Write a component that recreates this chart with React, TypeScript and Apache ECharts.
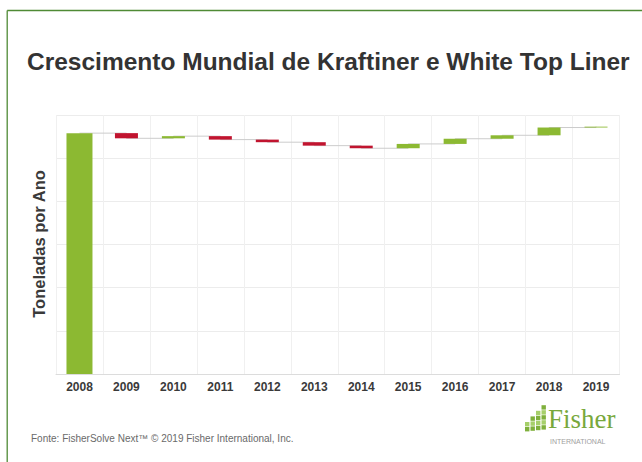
import React, { useEffect, useRef } from "react";
import * as echarts from "echarts";

const years = ["2008", "2009", "2010", "2011", "2012", "2013", "2014", "2015", "2016", "2017", "2018", "2019"];
const startTotal = 27.9;
const yearlyChanges = [-0.6, 0.25, -0.4, -0.3, -0.4, -0.3, 0.5, 0.6, 0.4, 0.9, 0.1];
const yTicks = { min: 0, max: 30, interval: 5 };

const GREEN = "#8cb932";
const RED = "#c1142f";

export default function App() {
  const ref = useRef<HTMLDivElement>(null);
  useEffect(() => {
    if (!ref.current) return;
    const chart = echarts.init(ref.current, null, { renderer: "svg" });

    const levels: number[] = [startTotal];
    yearlyChanges.forEach((d) => levels.push(+(levels[levels.length - 1] + d).toFixed(3)));

    const totalData = years.map((_, i) => (i === 0 ? startTotal : "-"));
    const baseData = years.map((_, i) => (i === 0 ? "-" : Math.min(levels[i - 1], levels[i])));
    const upData = years.map((_, i) => (i === 0 ? "-" : yearlyChanges[i - 1] > 0 ? yearlyChanges[i - 1] : "-"));
    const downData = years.map((_, i) => (i === 0 ? "-" : yearlyChanges[i - 1] < 0 ? -yearlyChanges[i - 1] : "-"));

    // Fisher logo squares (staircase icon)
    const logoSquares: any[] = [];
    const cols = [
      { x: 525, rows: 2 },
      { x: 530.5, rows: 3 },
      { x: 536, rows: 4 },
      { x: 541.5, rows: 5 },
    ];
    cols.forEach((c, ci) => {
      for (let r = 0; r < c.rows; r++) {
        logoSquares.push({
          type: "rect",
          shape: { x: c.x, y: 432 - (r + 1) * 5 - ci * 0.6, width: 4.4, height: 4.4 },
          style: { fill: r % 2 === 0 ? "#7fb03c" : "#a6cf6a" },
        });
      }
    });

    chart.setOption({
      animation: false,
      backgroundColor: "#ffffff",
      title: {
        text: "Crescimento Mundial de Kraftiner e White Top Liner",
        left: 22,
        top: 44,
        textStyle: { fontFamily: "'Liberation Sans', Arial, sans-serif", fontSize: 24.5, fontWeight: "bold", color: "#333333" },
      },
      grid: { left: 56, right: 22.5, top: 115, bottom: 88 },
      xAxis: [
        {
          type: "category",
          data: years,
          boundaryGap: true,
          axisLine: { show: true, lineStyle: { color: "#dcdcdc", width: 1 } },
          axisTick: { show: false },
          axisLabel: {
            margin: 7,
            interval: 0,
            color: "#3a3a3a",
            fontFamily: "'Liberation Sans', Arial, sans-serif",
            fontSize: 12,
            fontWeight: "bold",
          },
          splitLine: { show: true, interval: 0, lineStyle: { color: "#f0f0f0", width: 1 } },
        },
        { type: "category", data: years, show: false },
      ],
      yAxis: {
        type: "value",
        min: yTicks.min,
        max: yTicks.max,
        interval: yTicks.interval,
        axisLabel: { show: false },
        axisLine: { show: false },
        axisTick: { show: false },
        splitLine: { show: true, lineStyle: { color: "#ececec", width: 1 } },
      },
      series: [
        {
          name: "connector",
          type: "line",
          xAxisIndex: 0,
          data: levels,
          step: "end",
          symbol: "none",
          z: 1,
          lineStyle: { color: "#cccccc", width: 1 },
        },
        {
          name: "total",
          type: "bar",
          xAxisIndex: 0,
          data: totalData,
          barWidth: 26,
          z: 3,
          itemStyle: { color: GREEN },
        },
        {
          name: "base",
          type: "bar",
          xAxisIndex: 1,
          stack: "wf",
          data: baseData,
          barWidth: 23,
          z: 3,
          itemStyle: { color: "transparent" },
        },
        {
          name: "up",
          type: "bar",
          xAxisIndex: 1,
          stack: "wf",
          data: upData,
          barWidth: 23,
          z: 3,
          itemStyle: { color: GREEN },
        },
        {
          name: "down",
          type: "bar",
          xAxisIndex: 1,
          stack: "wf",
          data: downData,
          barWidth: 23,
          z: 3,
          itemStyle: { color: RED },
        },
      ],
      graphic: [
        {
          type: "line",
          shape: { x1: 7.2, y1: 10.5, x2: 642, y2: 10.5 },
          style: { stroke: "#4f8a35", lineWidth: 1.3 },
        },
        {
          type: "line",
          shape: { x1: 7.2, y1: 10.5, x2: 7.2, y2: 462 },
          style: { stroke: "#4f8a35", lineWidth: 1.3 },
        },
        {
          type: "text",
          x: 39,
          y: 244,
          rotation: Math.PI / 2,
          style: {
            text: "Toneladas por Ano",
            fontFamily: "'Liberation Sans', Arial, sans-serif",
            fontSize: 16.5,
            fontWeight: "bold",
            fill: "#3a3a3a",
            align: "center",
            verticalAlign: "middle",
          },
        },
        {
          type: "text",
          x: 31,
          y: 438,
          style: {
            text: "Fonte: FisherSolve Next™ © 2019 Fisher International, Inc.",
            fontFamily: "'Liberation Sans', Arial, sans-serif",
            fontSize: 10,
            fill: "#6a6a6a",
            verticalAlign: "middle",
          },
        },
        ...logoSquares,
        {
          type: "text",
          x: 548,
          y: 432,
          style: {
            text: "Fisher",
            fontFamily: "'Liberation Serif', 'DejaVu Serif', serif",
            fontSize: 27,
            fill: "#78a83c",
            verticalAlign: "bottom",
          },
        },
        {
          type: "text",
          x: 550,
          y: 441.5,
          style: {
            text: "INTERNATIONAL",
            fontFamily: "'Liberation Sans', Arial, sans-serif",
            fontSize: 7,
            fill: "#a0a0a0",
            verticalAlign: "middle",
          },
        },
      ],
    });
    return () => chart.dispose();
  }, []);
  return <div ref={ref} style={{ position: "fixed", left: 0, top: 0, width: 642, height: 462 }} />;
}
